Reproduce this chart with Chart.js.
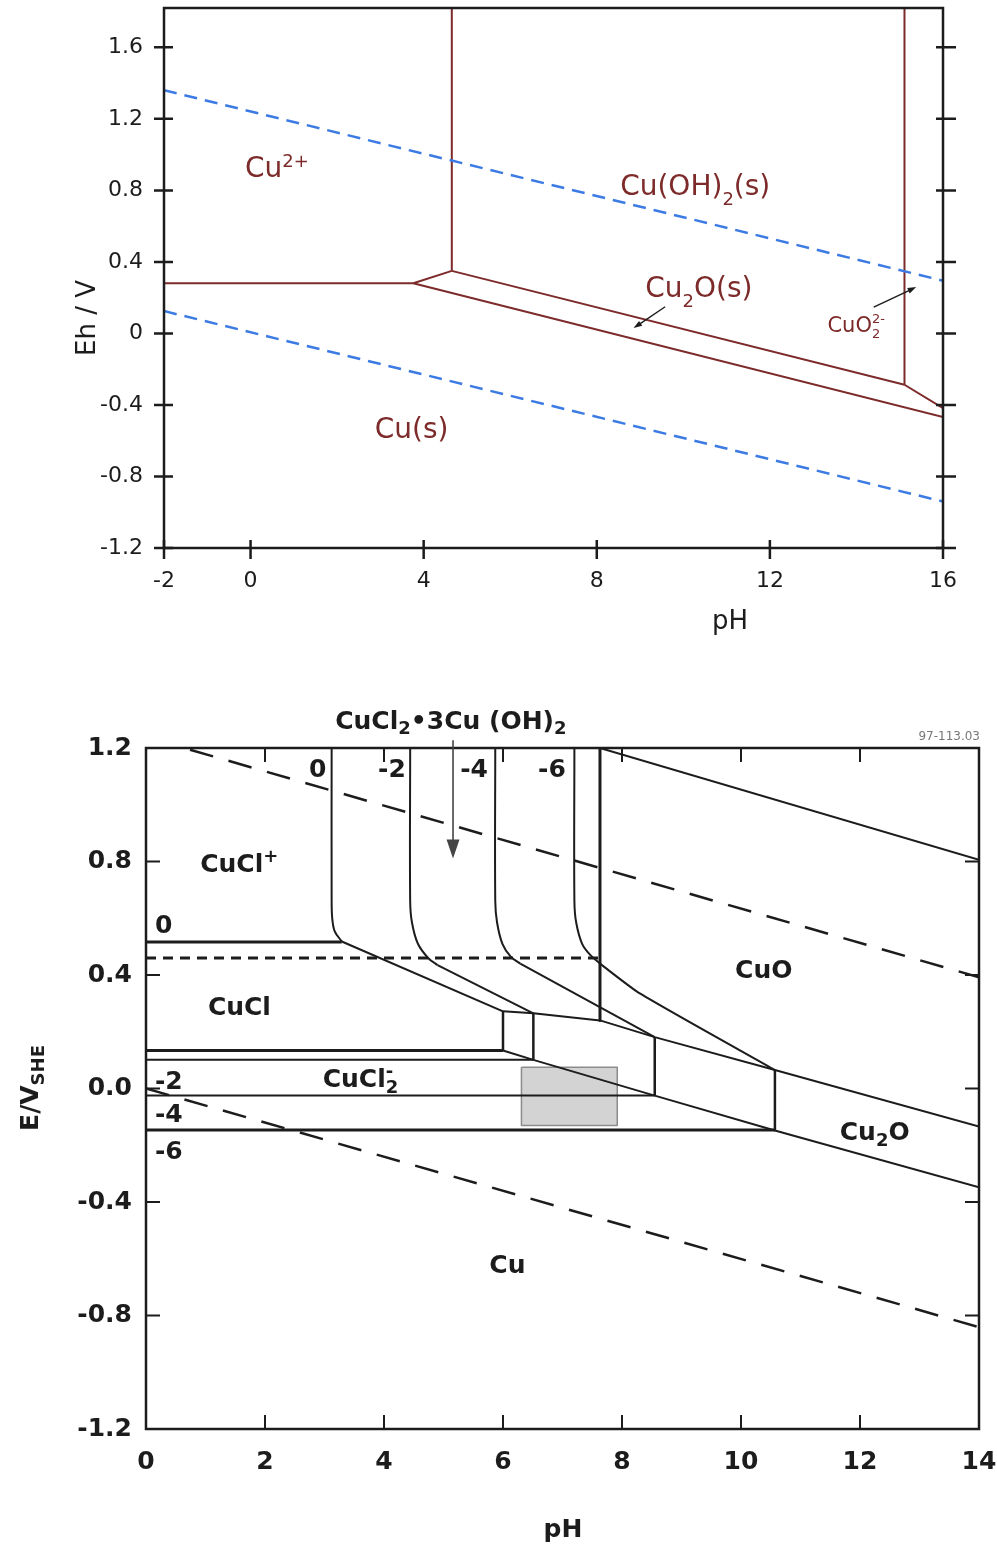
<!DOCTYPE html>
<html>
<head>
<meta charset="utf-8">
<title>Cu Pourbaix diagrams</title>
<script src="https://cdn.jsdelivr.net/npm/chart.js@4.4.1/dist/chart.umd.min.js"></script>
<style>
  html, body { margin: 0; padding: 0; background: #fff; }
  body { width: 997px; height: 1548px; position: relative; overflow: hidden; }
  .box { position: absolute; left: 0; width: 997px; }
  #topBox { top: 0; height: 660px; }
  #botBox { top: 660px; height: 888px; }
</style>
</head>
<body>
<div class="box" id="topBox"><canvas id="topChart"></canvas></div>
<div class="box" id="botBox"><canvas id="botChart"></canvas></div>
<script>
// ---------- top diagram: Cu - H2O (pH, Eh in V) ----------
const topXTicks = [-2, 0, 4, 8, 12, 16];
const topXLabels = ['-2', '0', '4', '8', '12', '16'];
const topYTicks = [-1.2, -0.8, -0.4, 0, 0.4, 0.8, 1.2, 1.6];
const topYLabels = ['-1.2', '-0.8', '-0.4', '0', '0.4', '0.8', '1.2', '1.6'];

const topO2 = [[-2, 1.36], [16, 0.295]];
const topH2 = [[-2, 0.125], [16, -0.94]];
const topCu2Cu = [[-2, 0.281], [3.76, 0.281]];
const topCu2Cu2O = [[3.76, 0.281], [4.65, 0.35]];
const topCu2CuOH2 = [[4.65, 0.35], [4.65, 1.82]];
const topCuOH2Cu2O = [[4.65, 0.35], [15.11, -0.287]];
const topCu2OCu = [[3.76, 0.281], [16, -0.468]];
const topCuOH2CuO2 = [[15.11, -0.287], [15.11, 1.82]];
const topCu2OCuO2 = [[15.11, -0.287], [16, -0.418]];

// ---------- bottom diagram: Cu - Cl - H2O (pH, E/V SHE) ----------
const botXTicks = [0, 2, 4, 6, 8, 10, 12, 14];
const botXLabels = ['0', '2', '4', '6', '8', '10', '12', '14'];
const botYTicks = [-1.2, -0.8, -0.4, 0, 0.4, 0.8, 1.2];
const botYLabels = ['-1.2', '-0.8', '-0.4', '0.0', '0.4', '0.8', '1.2'];

const botO2 = [[0.74, 1.194], [14, 0.392]];
const botH2 = [[0, 0.0], [14, -0.841]];
const botCuClLimit = [[0, 0.46], [7.6, 0.46]];
const botCuClPlus0 = [[0, 0.516], [3.29, 0.516]];
// activity curves (log a = 0, -2, -4, -6), bent part then straight part
const botCurve0 = [[3.12, 1.2], [3.12, 0.66], [3.13, 0.60], [3.17, 0.555], [3.29, 0.518]];
const botLine0 = [[3.29, 0.518], [6.0, 0.272]];
const botCurve2 = [[4.44, 1.2], [4.44, 0.66], [4.47, 0.585], [4.57, 0.51], [4.75, 0.458], [4.90, 0.435]];
const botLine2 = [[4.90, 0.435], [6.51, 0.265]];
const botCurve4 = [[5.87, 1.2], [5.87, 0.66], [5.90, 0.585], [5.99, 0.51], [6.13, 0.465], [6.29, 0.44]];
const botLine4 = [[6.29, 0.44], [8.55, 0.181]];
const botCurve6 = [[7.20, 1.2], [7.20, 0.66], [7.23, 0.585], [7.33, 0.51], [7.47, 0.47], [7.63, 0.44]];
const botLine6 = [[7.63, 0.44], [8.3, 0.335], [10.57, 0.065]];
const botCuOVert = [[7.63, 1.2], [7.63, 0.24]];
const botCuOTop = [[7.63, 1.2], [14, 0.806]];
const botCu2OUpper = [[6.0, 0.272], [6.51, 0.265], [7.63, 0.24], [8.55, 0.181], [10.57, 0.065], [14, -0.134]];
const botCu2OLower = [[6.0, 0.134], [6.51, 0.101], [8.55, -0.025], [10.57, -0.148], [14, -0.348]];
const botCuCl0 = [[0, 0.134], [6.0, 0.134]];
const botCuCl2 = [[0, 0.101], [6.51, 0.101]];
const botCuCl4 = [[0, -0.025], [8.55, -0.025]];
const botCuCl6 = [[0, -0.146], [10.57, -0.146]];
const botVert60 = [[6.0, 0.134], [6.0, 0.272]];
const botVert65 = [[6.51, 0.101], [6.51, 0.265]];
const botVert855 = [[8.55, -0.025], [8.55, 0.181]];
const botVert1057 = [[10.57, -0.148], [10.57, 0.065]];
const botGreyBox = [[6.31, 0.075], [7.92, 0.075], [7.92, -0.13], [6.31, -0.13], [6.31, 0.075]];

// ---------- styles ----------
const MAROON = '#7d2a2a';
const BLUE = '#3c7be3';
const INK = '#1c1c1c';
const FAM = '"DejaVu Sans", Verdana, sans-serif';

function line(pts, color, width, dash, tension) {
  return {
    data: pts.map(p => ({ x: p[0], y: p[1] })),
    showLine: true, pointRadius: 0, pointHoverRadius: 0,
    borderColor: color, borderWidth: width, borderDash: dash || [],
    borderJoinStyle: 'round', fill: false, tension: tension || 0
  };
}

// text with sub/superscripts drawn at a baseline
function drawRich(ctx, parts, x, y, st, align) {
  const big = `${st.weight} ${st.size}px ${FAM}`;
  const small = `${st.weight} ${Math.round(st.size * st.small)}px ${FAM}`;
  const widths = parts.map(p => {
    if (typeof p === 'string') { ctx.font = big; return ctx.measureText(p).width; }
    ctx.font = small;
    return Math.max(p.sub ? ctx.measureText(p.sub).width : 0, p.sup ? ctx.measureText(p.sup).width : 0);
  });
  const total = widths.reduce((a, b) => a + b, 0);
  let cx = align === 'center' ? x - total / 2 : align === 'right' ? x - total : x;
  ctx.textAlign = 'left';
  ctx.textBaseline = 'alphabetic';
  ctx.fillStyle = st.color;
  parts.forEach((p, i) => {
    if (typeof p === 'string') { ctx.font = big; ctx.fillText(p, cx, y); }
    else {
      ctx.font = small;
      if (p.sub) ctx.fillText(p.sub, cx, y + st.size * st.lower);
      if (p.sup) ctx.fillText(p.sup, cx, y - st.size * st.raise);
    }
    cx += widths[i];
  });
}

function arrow(ctx, x1, y1, x2, y2, head, color, width) {
  ctx.strokeStyle = color; ctx.fillStyle = color; ctx.lineWidth = width;
  const ang = Math.atan2(y2 - y1, x2 - x1);
  ctx.beginPath(); ctx.moveTo(x1, y1);
  ctx.lineTo(x2 - head * 0.7 * Math.cos(ang), y2 - head * 0.7 * Math.sin(ang)); ctx.stroke();
  ctx.beginPath(); ctx.moveTo(x2, y2);
  ctx.lineTo(x2 - head * Math.cos(ang - 0.33), y2 - head * Math.sin(ang - 0.33));
  ctx.lineTo(x2 - head * Math.cos(ang + 0.33), y2 - head * Math.sin(ang + 0.33));
  ctx.closePath(); ctx.fill();
}

// ---------- annotations ----------
const topStyle = { weight: 'normal', size: 28, small: 0.64, lower: 0.38, raise: 0.37, color: MAROON };
const topSmallStyle = { weight: 'normal', size: 21, small: 0.64, lower: 0.3, raise: 0.4, color: MAROON };
const topLabels = [
  { parts: ['Cu', { sup: '2+' }], at: [-0.13, 0.875], st: topStyle },
  { parts: ['Cu(OH)', { sub: '2' }, '(s)'], at: [8.54, 0.775], st: topStyle },
  { parts: ['Cu', { sub: '2' }, 'O(s)'], at: [9.12, 0.205], st: topStyle },
  { parts: ['CuO', { sub: '2', sup: '2-' }], at: [13.33, 0.009], st: topSmallStyle },
  { parts: ['Cu(s)'], at: [2.87, -0.583], st: topStyle }
];
const topArrows = [[9.58, 0.149, 8.85, 0.030], [14.40, 0.147, 15.38, 0.259]];

const botStyle = { weight: 'bold', size: 25, small: 0.72, lower: 0.22, raise: 0.42, color: INK };
const botLabels = [
  { parts: ['CuCl', { sup: '+' }], at: [0.91, 0.762] },
  { parts: ['0'], at: [0.15, 0.547] },
  { parts: ['0'], at: [2.74, 1.097] },
  { parts: ['-2'], at: [3.90, 1.097] },
  { parts: ['-4'], at: [5.28, 1.097] },
  { parts: ['-6'], at: [6.59, 1.097] },
  { parts: ['CuCl'], at: [1.04, 0.258] },
  { parts: ['CuCl', { sub: '2', sup: '-' }], at: [2.97, 0.005] },
  { parts: ['-2'], at: [0.15, 0.0] },
  { parts: ['-4'], at: [0.15, -0.119] },
  { parts: ['-6'], at: [0.15, -0.249] },
  { parts: ['CuO'], at: [9.90, 0.388] },
  { parts: ['Cu', { sub: '2' }, 'O'], at: [11.66, -0.182] },
  { parts: ['Cu'], at: [5.77, -0.651] },
  { parts: ['CuCl', { sub: '2' }, '\u20223Cu (OH)', { sub: '2' }], at: [3.18, 1.268] }
];
const botArrow = [5.16, 1.227, 5.16, 0.811];

// ---------- plugins ----------
const topDecor = {
  id: 'topDecor',
  afterDatasetsDraw(chart) {
    const { ctx, chartArea: a, scales: { x, y } } = chart;
    ctx.save();
    ctx.strokeStyle = INK; ctx.lineWidth = 2.5;
    ctx.strokeRect(a.left, a.top, a.right - a.left, a.bottom - a.top);
    ctx.beginPath();
    y.ticks.forEach(t => {
      const py = y.getPixelForValue(t.value);
      ctx.moveTo(a.left - 10, py); ctx.lineTo(a.left + 9, py);
      ctx.moveTo(a.right - 7, py); ctx.lineTo(a.right + 13, py);
    });
    x.ticks.forEach(t => {
      const px = x.getPixelForValue(t.value);
      ctx.moveTo(px, a.bottom - 8); ctx.lineTo(px, a.bottom + 11);
    });
    ctx.stroke();
    topLabels.forEach(l => drawRich(ctx, l.parts, x.getPixelForValue(l.at[0]), y.getPixelForValue(l.at[1]), l.st, 'left'));
    topArrows.forEach(r => arrow(ctx, x.getPixelForValue(r[0]), y.getPixelForValue(r[1]),
      x.getPixelForValue(r[2]), y.getPixelForValue(r[3]), 9, INK, 1.4));
    // axis titles
    ctx.fillStyle = INK; ctx.font = `26px ${FAM}`;
    ctx.textAlign = 'center'; ctx.textBaseline = 'alphabetic';
    ctx.fillText('pH', 730, 629);
    ctx.translate(95, 318); ctx.rotate(-Math.PI / 2);
    ctx.fillText('Eh / V', 0, 0);
    ctx.restore();
  }
};

const botDecor = {
  id: 'botDecor',
  afterDatasetsDraw(chart) {
    const { ctx, chartArea: a, scales: { x, y } } = chart;
    ctx.save();
    ctx.strokeStyle = INK; ctx.lineWidth = 2.5;
    ctx.strokeRect(a.left, a.top, a.right - a.left, a.bottom - a.top);
    ctx.lineWidth = 2;
    ctx.beginPath();
    y.ticks.forEach(t => {
      const py = y.getPixelForValue(t.value);
      ctx.moveTo(a.left, py); ctx.lineTo(a.left + 14, py);
      ctx.moveTo(a.right - 14, py); ctx.lineTo(a.right, py);
    });
    x.ticks.forEach(t => {
      const px = x.getPixelForValue(t.value);
      ctx.moveTo(px, a.bottom); ctx.lineTo(px, a.bottom - 14);
      ctx.moveTo(px, a.top); ctx.lineTo(px, a.top + 14);
    });
    ctx.stroke();
    botLabels.forEach(l => drawRich(ctx, l.parts, x.getPixelForValue(l.at[0]), y.getPixelForValue(l.at[1]), botStyle, 'left'));
    arrow(ctx, x.getPixelForValue(botArrow[0]), y.getPixelForValue(botArrow[1]),
      x.getPixelForValue(botArrow[2]), y.getPixelForValue(botArrow[3]), 20, '#444', 1.6);
    // figure code
    ctx.fillStyle = '#777'; ctx.font = `12px ${FAM}`;
    ctx.textAlign = 'right'; ctx.textBaseline = 'alphabetic';
    ctx.fillText('97-113.03', a.right + 1, a.top - 8);
    // axis titles
    ctx.fillStyle = INK; ctx.font = `bold 25px ${FAM}`;
    ctx.textAlign = 'center'; ctx.textBaseline = 'middle';
    ctx.fillText('pH', 563, 870);
    ctx.translate(38, 428); ctx.rotate(-Math.PI / 2);
    drawRich(ctx, ['E/V', { sub: 'SHE' }], 0, 0, { weight: 'bold', size: 25, small: 0.72, lower: 0.22, raise: 0.4, color: INK }, 'center');
    ctx.restore();
  }
};

function axisX(min, max, ticks, labels, font, pad, height) {
  return {
    type: 'linear', min: min, max: max,
    afterBuildTicks: s => { s.ticks = ticks.map(v => ({ value: v })); },
    afterFit: s => { s.height = height; s.paddingLeft = 0; s.paddingRight = 0; },
    grid: { display: false, drawTicks: false },
    border: { display: false },
    ticks: { autoSkip: false, maxRotation: 0, padding: pad, color: INK, font: font, callback: (v, i) => labels[i] }
  };
}
function axisY(min, max, ticks, labels, font, pad, width) {
  return {
    type: 'linear', min: min, max: max,
    afterBuildTicks: s => { s.ticks = ticks.map(v => ({ value: v })); },
    afterFit: s => { s.width = width; s.paddingTop = 0; s.paddingBottom = 0; },
    grid: { display: false, drawTicks: false },
    border: { display: false },
    ticks: { autoSkip: false, padding: pad, color: INK, font: font, callback: (v, i) => labels[i] }
  };
}

const commonPlugins = { legend: { display: false }, tooltip: { enabled: false } };

new Chart(document.getElementById('topChart'), {
  type: 'scatter',
  data: {
    datasets: [
      line(topO2, BLUE, 2.5, [13, 8]),
      line(topH2, BLUE, 2.5, [13, 8]),
      line(topCu2Cu, MAROON, 2),
      line(topCu2Cu2O, MAROON, 2),
      line(topCu2CuOH2, MAROON, 2),
      line(topCuOH2Cu2O, MAROON, 2),
      line(topCu2OCu, MAROON, 2),
      line(topCuOH2CuO2, MAROON, 2),
      line(topCu2OCuO2, MAROON, 2)
    ]
  },
  options: {
    responsive: true, maintainAspectRatio: false, animation: false,
    layout: { padding: { top: 8, right: 54, bottom: 0, left: 0 } },
    plugins: commonPlugins,
    scales: {
      x: axisX(-2, 16, topXTicks, topXLabels, { family: FAM, size: 22 }, 20, 112),
      y: axisY(-1.2, 1.82, topYTicks, topYLabels, { family: FAM, size: 22 }, 21, 164)
    }
  },
  plugins: [topDecor]
});

const greyBox = line(botGreyBox, '#8c8c8c', 1.5);
greyBox.fill = 'shape';
greyBox.backgroundColor = '#d3d3d3';
greyBox.order = 5;

new Chart(document.getElementById('botChart'), {
  type: 'scatter',
  data: {
    datasets: [
      greyBox,
      line(botO2, INK, 2.5, [24, 16]),
      line(botH2, INK, 2.5, [24, 16]),
      line(botCuClLimit, INK, 3, [10, 7]),
      line(botCuClPlus0, INK, 3),
      line(botCurve0, INK, 2, null, 0.35),
      line(botLine0, INK, 2),
      line(botCurve2, INK, 2, null, 0.35),
      line(botLine2, INK, 2),
      line(botCurve4, INK, 2, null, 0.35),
      line(botLine4, INK, 2),
      line(botCurve6, INK, 2, null, 0.35),
      line(botLine6, INK, 2, null, 0.2),
      line(botCuOVert, INK, 3),
      line(botCuOTop, INK, 2),
      line(botCu2OUpper, INK, 2),
      line(botCu2OLower, INK, 2),
      line(botCuCl0, INK, 3),
      line(botCuCl2, INK, 2),
      line(botCuCl4, INK, 2),
      line(botCuCl6, INK, 3),
      line(botVert60, INK, 2.5),
      line(botVert65, INK, 2.5),
      line(botVert855, INK, 2.5),
      line(botVert1057, INK, 2.5)
    ]
  },
  options: {
    responsive: true, maintainAspectRatio: false, animation: false,
    layout: { padding: { top: 88, right: 18, bottom: 0, left: 0 } },
    plugins: commonPlugins,
    scales: {
      x: axisX(0, 14, botXTicks, botXLabels, { family: FAM, size: 25, weight: 'bold' }, 18, 119),
      y: axisY(-1.2, 1.2, botYTicks, botYLabels, { family: FAM, size: 25, weight: 'bold' }, 14, 146)
    }
  },
  plugins: [botDecor]
});
</script>
</body>
</html>
